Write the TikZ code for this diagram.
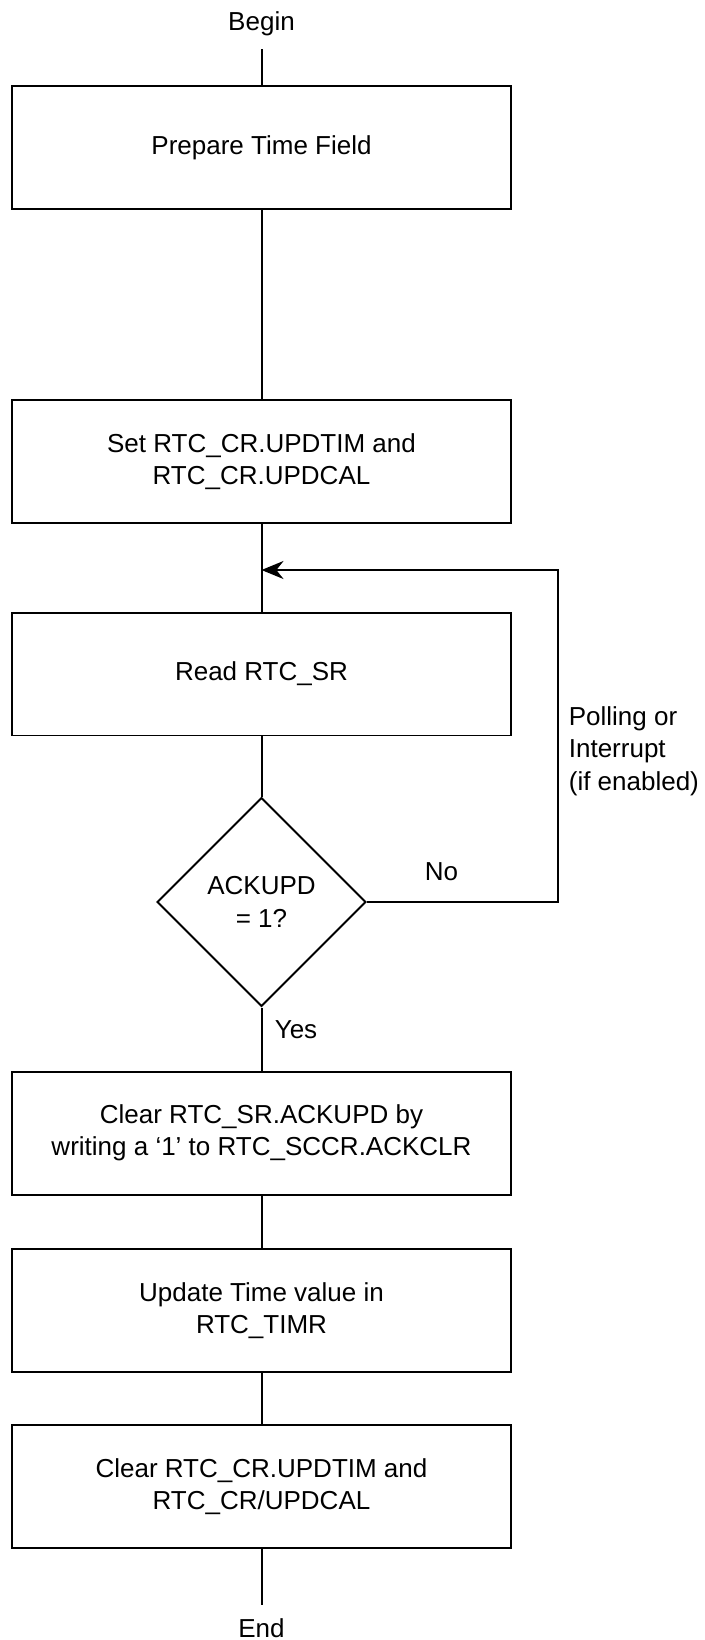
\documentclass[tikz,border=0pt]{standalone}
\usepackage{fontspec}
\setmainfont{Liberation Sans}
\usepackage{tikz}
\usetikzlibrary{calc,shapes.geometric,arrows.meta}

\begin{document}
\begin{tikzpicture}[x=0.02cm,y=-0.02cm,line width=0.04cm,
    every node/.style={font=\fontsize{14.8}{18.5}\selectfont},
    box/.style={draw,minimum width=10cm,minimum height=2.46cm,align=center},
    decision/.style={draw,diamond,aspect=1,minimum size=4.18cm,inner sep=0pt,align=center},
    term/.style={inner ysep=0.24cm}]
        \useasboundingbox (0,0) rectangle (704,1640);
        \node[term] (start) at (261.5,24) {Begin};
        \node[box] (prep) at (261.5,147.5) {Prepare Time Field};
        \node[box] (setcr) at (261.5,461.5) {Set RTC\_CR.UPDTIM and\\RTC\_CR.UPDCAL};
        \node[box] (rdsr) at (261.5,674) {Read RTC\_SR};
        \node[decision] (ack) at (261.5,902) {ACKUPD\\= 1?};
        \node[box] (clrsr) at (261.5,1133) {Clear RTC\_SR.ACKUPD by\\writing a ‘1’ to RTC\_SCCR.ACKCLR};
        \node[box] (updt) at (261.5,1310.5) {Update Time value in\\RTC\_TIMR};
        \node[box] (clrcr) at (261.5,1486.5) {Clear RTC\_CR.UPDTIM and\\RTC\_CR/UPDCAL};
        \node[term] (stop) at (261.5,1628) {End};
        \coordinate (join) at (261.5,570);
        \coordinate (loop) at (557.6,902);
        \node (no) at (441.5,871.5) {No};
        \node (yes) at (296,1029.5) {Yes};
        \node[align=left,anchor=west] (poll) at (562,751) {Polling or\\Interrupt\\(if enabled)};
        \path (start) edge (prep)  (prep) edge (setcr)  (setcr) edge (rdsr)  (rdsr) edge (ack)
              (ack) edge (clrsr)  (clrsr) edge (updt)  (updt) edge (clrcr)  (clrcr) edge (stop);
        \draw[-{Stealth[length=0.44cm,width=0.36cm]}] (ack) -- (loop) |- (join);
\end{tikzpicture}
\end{document}
